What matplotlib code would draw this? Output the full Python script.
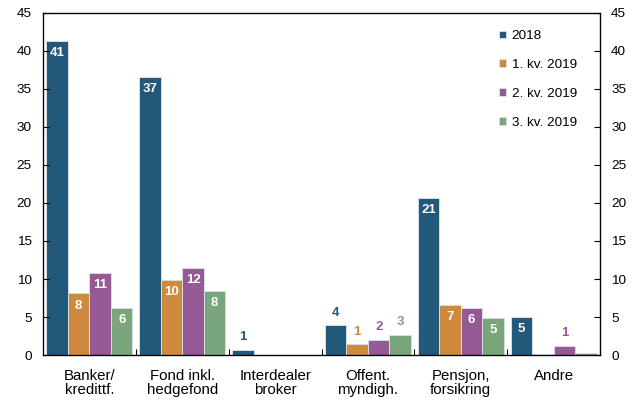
import matplotlib.pyplot as plt
import matplotlib.ticker as ticker
import numpy as np

plt.rcParams['font.family'] = ['Liberation Sans', 'DejaVu Sans']

categories = ['Banker/\nkredittf.', 'Fond inkl.\nhedgefond', 'Interdealer\nbroker',
              'Offent.\nmyndigh.', 'Pensjon,\nforsikring', 'Andre']
series = ['2018', '1. kv. 2019', '2. kv. 2019', '3. kv. 2019']
v2018 = [41.3, 36.6, 0.7, 3.9, 20.6, 5.0]
v2019q1 = [8.1, 9.9, 0.0, 1.4, 6.6, 0.15]
v2019q2 = [10.8, 11.5, 0.0, 1.95, 6.2, 1.2]
v2019q3 = [6.2, 8.4, 0.0, 2.7, 4.9, 0.3]
colors = ['#22587a', '#d08a3e', '#955a96', '#79a77b']

values = [v2018, v2019q1, v2019q2, v2019q3]

fig = plt.figure(figsize=(6.37, 4.03), dpi=100)
ax = fig.add_axes([0.0675, 0.119, 0.8745, 0.849])

x = np.arange(len(categories))
w = 0.232
for i, (vals, col, name) in enumerate(zip(values, colors, series)):
    pos = x + (i - 1.5) * w
    bars = ax.bar(pos, vals, width=w, color=col, edgecolor='#d6dee4',
                  linewidth=0.7, label=name)
    for b, v in zip(bars, vals):
        if v < 0.5:
            continue
        cx = b.get_x() + b.get_width() / 2
        if v >= 4.5:
            ax.text(cx, v - 0.8, f'{v:.0f}', ha='center', va='top',
                    color='white', fontsize=9.5, fontweight='bold')
        else:
            ax.text(cx, v + 0.9, f'{v:.0f}', ha='center', va='bottom',
                    color=col, fontsize=9.5, fontweight='bold')

ax.set_xlim(-0.5, len(categories) - 0.5)
ax.set_ylim(0, 45)
ax.yaxis.set_major_locator(ticker.MultipleLocator(5))
ax.set_xticks(x)
ax.set_xticklabels(categories, fontsize=10.8, linespacing=1.0)
ax.tick_params(axis='x', length=0, pad=10)
ax.set_xticks(np.arange(0.5, len(categories) - 0.5, 1), minor=True)
ax.tick_params(axis='x', which='minor', direction='in', length=4, width=0.8)
ax.tick_params(axis='y', direction='in', length=4, width=0.8, labelsize=9.7, pad=8)
for s in ax.spines.values():
    s.set_linewidth(0.9)

ax2 = ax.twinx()
ax2.set_ylim(0, 45)
ax2.yaxis.set_major_locator(ticker.MultipleLocator(5))
ax2.tick_params(axis='y', direction='in', length=4, width=0.8, labelsize=9.7, pad=8)

ax.legend(loc='upper right', bbox_to_anchor=(0.98, 0.985), frameon=False,
          fontsize=9.7, handlelength=0.5, handleheight=0.5, handletextpad=0.4,
          labelspacing=1.25)

fig.savefig('out.png', dpi=100)
